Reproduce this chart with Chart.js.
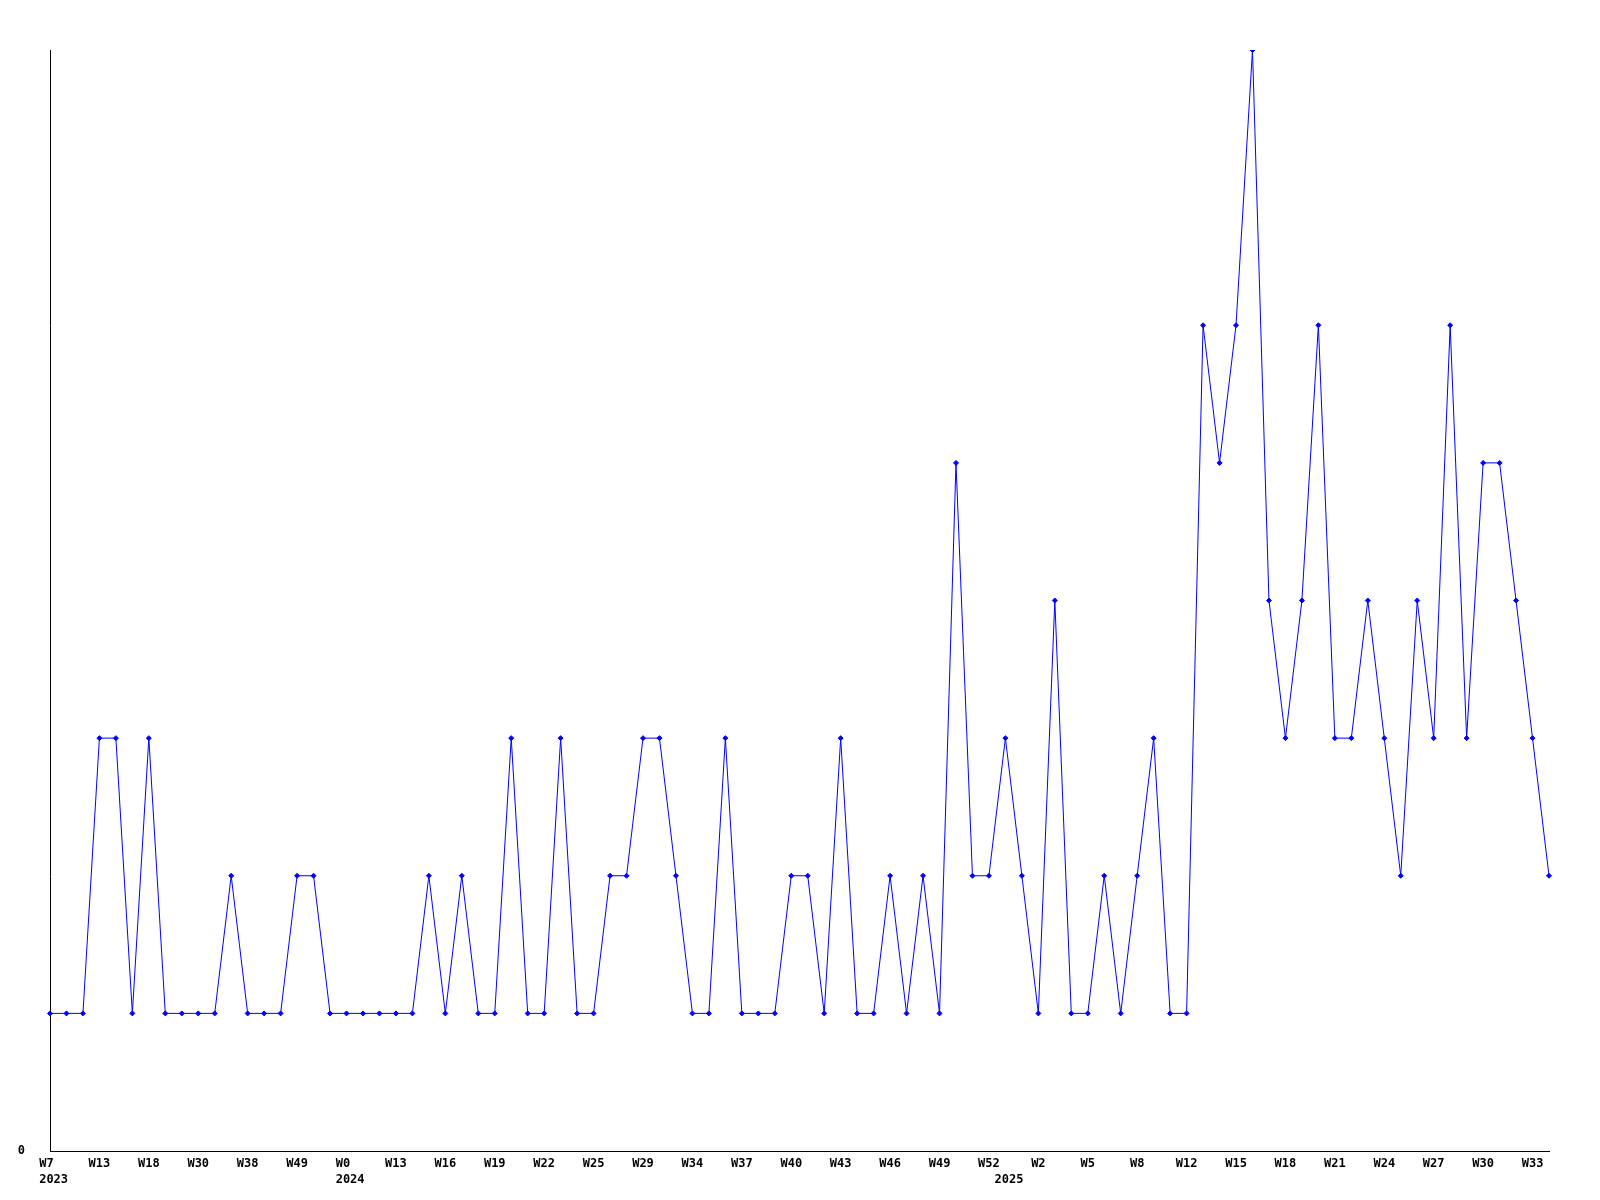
<!DOCTYPE html>
<html>
<head>
<meta charset="utf-8">
<title>Weekly count</title>
<script src="https://cdn.jsdelivr.net/npm/chart.js@4/dist/chart.umd.min.js"></script>
<style>
    html, body { margin: 0; padding: 0; background: #fff; }
    #weeklyChart { display: block; }
</style>
</head>
<body>
<canvas id="weeklyChart" width="1600" height="1200"></canvas>
<script>
    // Weeks that have data, as "year week"
    const categories = [
        '2023 7', '2023 8', '2023 11', '2023 13', '2023 14', '2023 16', '2023 18', '2023 21', '2023 26',
        '2023 30', '2023 33', '2023 35', '2023 38', '2023 41', '2023 45', '2023 49', '2023 50', '2023 51',
        '2024 0', '2024 5', '2024 10', '2024 13', '2024 14', '2024 15', '2024 16', '2024 17', '2024 18',
        '2024 19', '2024 20', '2024 21', '2024 22', '2024 23', '2024 24', '2024 25', '2024 26', '2024 28',
        '2024 29', '2024 30', '2024 32', '2024 34', '2024 35', '2024 36', '2024 37', '2024 38', '2024 39',
        '2024 40', '2024 41', '2024 42', '2024 43', '2024 44', '2024 45', '2024 46', '2024 47', '2024 48',
        '2024 49', '2024 50', '2024 51', '2024 52',
        '2025 0', '2025 1', '2025 2', '2025 3', '2025 4', '2025 5', '2025 6', '2025 7', '2025 8',
        '2025 9', '2025 10', '2025 12', '2025 13', '2025 14', '2025 15', '2025 16', '2025 17', '2025 18',
        '2025 19', '2025 20', '2025 21', '2025 22', '2025 23', '2025 24', '2025 25', '2025 26', '2025 27',
        '2025 28', '2025 29', '2025 30', '2025 31', '2025 32', '2025 33', '2025 34'
    ];

    // Count per week
    const counts = [
        1, 1, 1, 3, 3, 1, 3, 1, 1, 1, 1, 2, 1, 1, 1, 2, 2, 1,
        1, 1, 1, 1, 1, 2, 1, 2, 1, 1, 3, 1, 1, 3, 1, 1, 2, 2, 3, 3, 2, 1, 1, 3, 1, 1, 1, 2, 2, 1,
        3, 1, 1, 2, 1, 2, 1, 5, 2, 2,
        3, 2, 1, 4, 1, 1, 2, 1, 2, 3, 1, 1, 6, 5, 6, 8, 4, 3, 4, 6, 3, 3, 4, 3, 2, 4, 3, 6, 3,
        5, 5, 4, 3, 2
    ];

    const yTicks = [0];
    const yMax = 8;

    const labelFont = { family: '"DejaVu Sans Mono", monospace', size: 12, weight: 'bold', lineHeight: 1.3 };

    var ctx = document.getElementById('weeklyChart').getContext('2d');
    var weeklyChart = new Chart(ctx, {
        type: 'line',
        data: {
            labels: categories,
            datasets: [{
                data: counts,
                borderColor: '#0000ff',
                backgroundColor: '#0000ff',
                borderWidth: 1,
                tension: 0,
                fill: false,
                pointStyle: 'rectRot',
                pointRadius: 2.5,
                pointBorderWidth: 1,
                pointHoverRadius: 2.5
            }]
        },
        options: {
            responsive: false,
            animation: false,
            layout: {
                padding: { top: 50, right: 51, left: 0, bottom: 0 }
            },
            scales: {
                x: {
                    grid: { display: false, drawTicks: false },
                    border: { display: true, color: '#000', width: 1 },
                    ticks: {
                        autoSkip: false,
                        maxRotation: 0,
                        minRotation: 0,
                        padding: 5,
                        color: '#000',
                        font: labelFont,
                        callback: function (value, index) {
                            const parts = categories[index].split(' ');
                            const firstOfYear = index === 0 || categories[index - 1].split(' ')[0] !== parts[0];
                            const week = index % 3 === 0 ? 'W' + parts[1] : '';
                            // week and year start at the same left edge, a little left of the point
                            if (firstOfYear) return [(' ' + week).padEnd(5, ' '), ' ' + parts[0]];
                            return week;
                        }
                    },
                    afterFit: function (scale) { scale.height = 49; }
                },
                y: {
                    min: 0,
                    max: yMax,
                    grid: { display: false, drawTicks: false },
                    border: { display: true, color: '#000', width: 1 },
                    ticks: {
                        stepSize: yMax,
                        padding: 25,
                        color: '#000',
                        font: labelFont,
                        callback: function (value) {
                            return yTicks.includes(value) ? String(value) : '';
                        }
                    },
                    afterFit: function (scale) { scale.width = 50; }
                }
            },
            plugins: {
                legend: { display: false },
                tooltip: { enabled: false }
            }
        }
    });
</script>
</body>
</html>
